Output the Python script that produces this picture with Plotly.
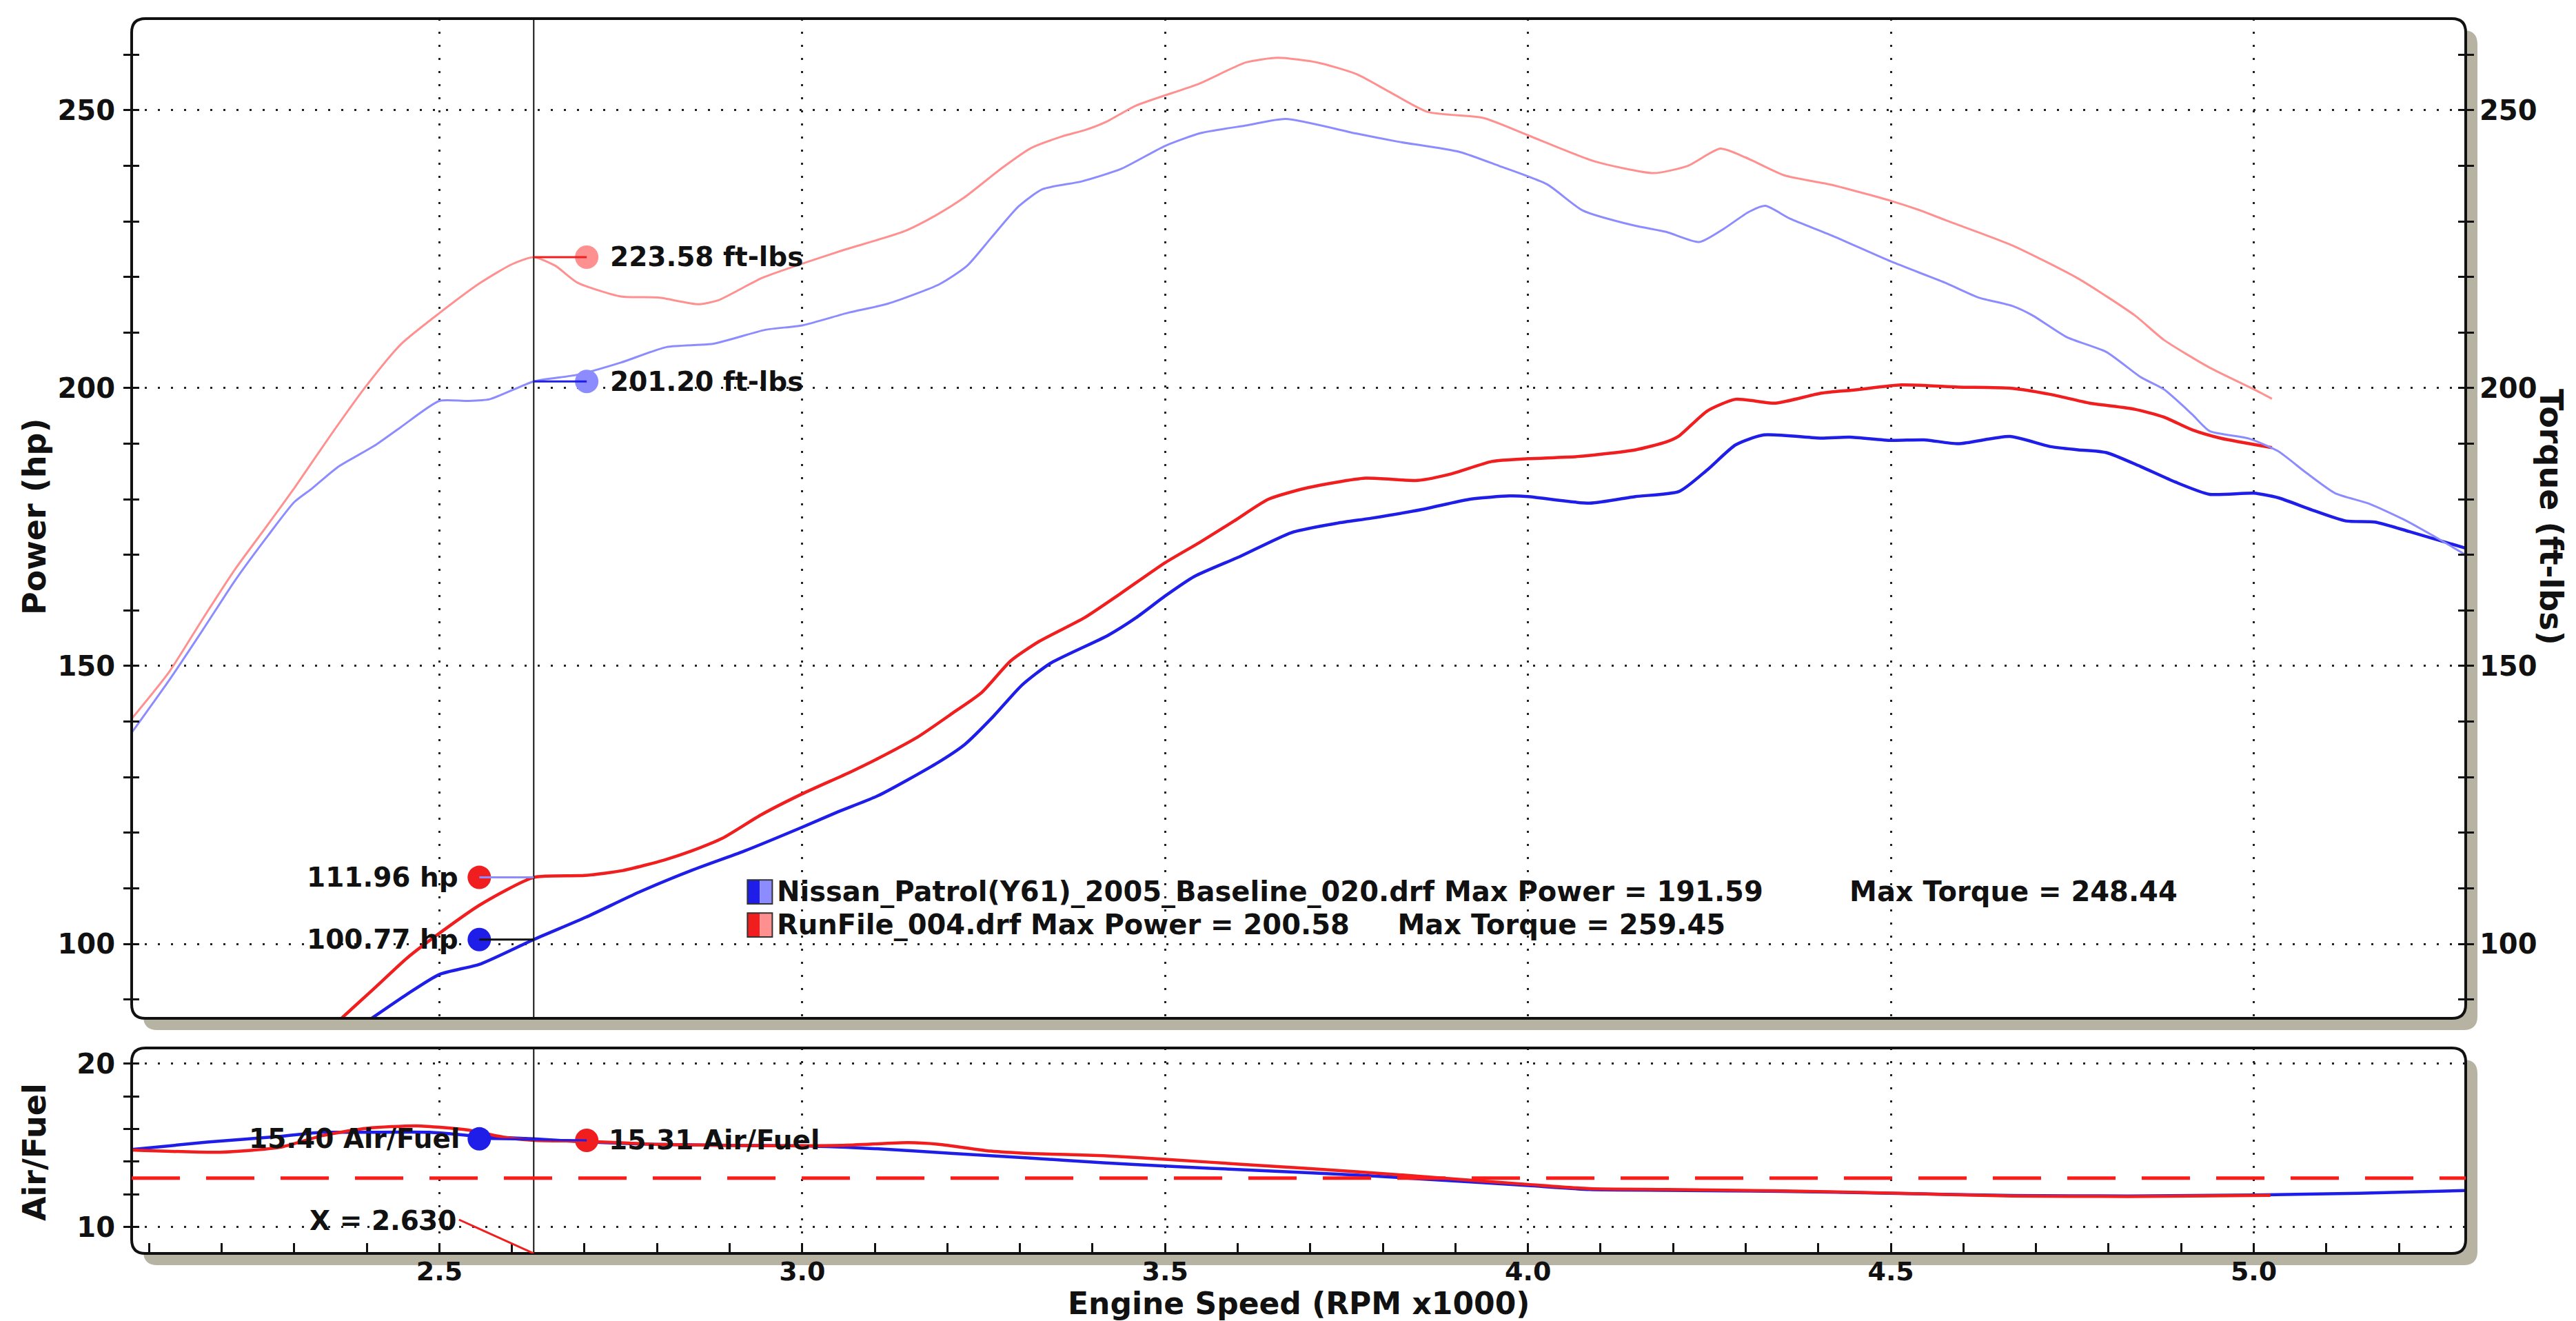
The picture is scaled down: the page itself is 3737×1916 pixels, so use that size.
import plotly.graph_objects as go

# ---------------- data ----------------
CURSOR_X = 2.630

run_power_rpm = [2.36, 2.412, 2.455, 2.5, 2.557, 2.63, 2.70, 2.753, 2.81, 2.847, 2.89, 2.943, 3.0, 3.066,
                 3.105, 3.16, 3.208, 3.247, 3.287, 3.326, 3.389, 3.437, 3.5, 3.547, 3.595, 3.642, 3.697,
                 3.776, 3.848, 3.895, 3.95, 4.0, 4.069, 4.148, 4.19, 4.208, 4.247, 4.286, 4.341, 4.404,
                 4.451, 4.514, 4.593, 4.664, 4.719, 4.774, 4.836, 4.876, 4.915, 4.954, 5.025]
run_power_hp = [86.0, 92.2, 97.4, 101.9, 107.1, 111.96, 112.3, 113.2, 115.1, 116.7, 119.0, 123.2, 127.0, 130.9,
                133.4, 137.3, 141.6, 145.2, 150.9, 154.4, 158.7, 162.9, 168.6, 172.2, 176.1, 180.0, 182.1,
                183.8, 183.4, 184.6, 186.8, 187.3, 187.7, 188.9, 190.3, 191.4, 195.9, 198.0, 197.3, 199.1,
                199.7, 200.58, 200.2, 200.0, 198.9, 197.3, 196.2, 194.8, 192.5, 191.0, 189.3]

base_power_rpm = [2.40, 2.455, 2.5, 2.557, 2.63, 2.702, 2.775, 2.847, 2.92, 3.0, 3.05, 3.105, 3.184, 3.224,
                  3.263, 3.303, 3.342, 3.421, 3.46, 3.5, 3.54, 3.603, 3.674, 3.737, 3.784, 3.855, 3.919,
                  3.974, 4.0, 4.085, 4.148, 4.208, 4.247, 4.286, 4.325, 4.404, 4.443, 4.5, 4.546, 4.593,
                  4.664, 4.719, 4.758, 4.797, 4.844, 4.892, 4.939, 5.0, 5.033, 5.08, 5.127, 5.167, 5.214, 5.292]
base_power_hp = [86.0, 90.9, 94.5, 96.4, 100.77, 104.8, 109.3, 113.2, 116.7, 121.0, 123.8, 126.7, 132.4, 135.9,
                 140.9, 146.6, 150.5, 155.5, 158.7, 162.6, 166.1, 169.7, 174.0, 175.7, 176.6, 178.2, 180.0,
                 180.6, 180.5, 179.3, 180.5, 181.4, 185.3, 189.8, 191.59, 191.0, 191.2, 190.6, 190.7, 190.0,
                 191.3, 189.5, 188.9, 188.4, 185.9, 183.1, 180.9, 181.1, 180.3, 178.1, 176.1, 175.9, 174.2, 171.2]

run_torque_rpm = [2.076, 2.128, 2.174, 2.219, 2.264, 2.30, 2.35, 2.398, 2.447, 2.5, 2.557, 2.60, 2.63, 2.66,
                  2.69, 2.75, 2.802, 2.857, 2.884, 2.944, 3.0, 3.058, 3.14, 3.184, 3.222, 3.276, 3.315,
                  3.358, 3.391, 3.42, 3.459, 3.547, 3.611, 3.655, 3.71, 3.764, 3.808, 3.862, 3.939, 4.0,
                  4.092, 4.173, 4.22, 4.265, 4.30, 4.353, 4.418, 4.5, 4.538, 4.576, 4.667, 4.757, 4.836,
                  4.876, 4.939, 5.0, 5.025]
run_torque_lbft = [140.5, 149.0, 158.5, 167.5, 175.5, 182.0, 191.5, 200.2, 207.9, 213.5, 219.0, 222.3, 223.58, 222.0,
                   219.0, 216.5, 216.3, 215.1, 215.8, 219.8, 222.4, 224.9, 228.2, 231.1, 234.2, 239.7, 243.2,
                   245.3, 246.5, 248.0, 250.8, 254.8, 258.6, 259.45, 258.6, 256.5, 253.4, 249.7, 248.6, 245.5,
                   240.8, 238.7, 240.0, 243.1, 241.5, 238.3, 236.6, 233.7, 232.1, 230.2, 225.7, 219.8, 213.1,
                   208.7, 203.7, 199.8, 198.1]

base_torque_rpm = [2.076, 2.128, 2.174, 2.219, 2.264, 2.30, 2.325, 2.36, 2.41, 2.447, 2.5, 2.538, 2.569, 2.63,
                   2.69, 2.75, 2.813, 2.878, 2.949, 3.0, 3.064, 3.118, 3.189, 3.227, 3.26, 3.298, 3.331,
                   3.385, 3.44, 3.5, 3.549, 3.613, 3.666, 3.764, 3.819, 3.906, 3.96, 4.026, 4.075, 4.145,
                   4.191, 4.236, 4.27, 4.304, 4.327, 4.361, 4.418, 4.5, 4.576, 4.621, 4.667, 4.695, 4.742,
                   4.797, 4.844, 4.876, 4.915, 4.939, 4.994, 5.033, 5.072, 5.112, 5.159, 5.206, 5.245, 5.292]
base_torque_lbft = [138.0, 147.5, 156.5, 165.5, 173.5, 179.5, 182.0, 185.8, 189.6, 193.0, 197.7, 197.7, 198.0, 201.2,
                    202.4, 204.6, 207.4, 208.0, 210.5, 211.3, 213.6, 215.2, 218.7, 222.0, 227.0, 232.7, 235.8,
                    237.2, 239.5, 243.6, 245.9, 247.3, 248.44, 245.8, 244.4, 242.5, 240.0, 236.7, 232.0, 229.3,
                    228.1, 226.3, 228.7, 231.7, 232.8, 230.5, 227.5, 222.8, 218.9, 216.3, 214.8, 213.1, 209.2,
                    206.5, 202.0, 199.8, 195.3, 192.3, 190.9, 188.7, 184.8, 181.1, 179.2, 176.4, 173.6, 170.0]

base_afr_rpm = [2.076, 2.18, 2.28, 2.339, 2.40, 2.487, 2.556, 2.63, 2.703, 2.796, 2.899, 3.0, 3.105, 3.208,
                3.311, 3.415, 3.5, 3.62, 3.767, 3.873, 4.0, 4.085, 4.191, 4.35, 4.5, 4.668, 4.827, 5.0,
                5.145, 5.292]
base_afr = [14.75, 15.2, 15.55, 15.8, 15.8, 15.8, 15.55, 15.40, 15.21, 15.07, 15.0, 14.97, 14.79, 14.51,
            14.23, 13.94, 13.73, 13.48, 13.17, 12.89, 12.54, 12.3, 12.25, 12.18, 12.07, 11.93, 11.9, 11.96,
            12.07, 12.24]

run_afr_rpm = [2.076, 2.198, 2.28, 2.339, 2.40, 2.469, 2.538, 2.59, 2.63, 2.705, 2.796, 2.899, 3.054, 3.146,
               3.188, 3.26, 3.311, 3.415, 3.5, 3.62, 3.767, 3.873, 4.0, 4.085, 4.191, 4.35, 4.5, 4.668,
               4.827, 5.023]
run_afr = [14.72, 14.58, 14.88, 15.6, 16.05, 16.2, 15.95, 15.49, 15.31, 15.25, 15.07, 15.0, 15.0, 15.17,
           15.07, 14.65, 14.51, 14.37, 14.15, 13.8, 13.38, 13.03, 12.61, 12.35, 12.3, 12.21, 12.08, 11.9,
           11.87, 11.94]

AFR_TARGET = 13.0

cursor_run_hp, cursor_base_hp = 111.96, 100.77
cursor_run_tq, cursor_base_tq = 223.58, 201.20
cursor_base_afr, cursor_run_afr = 15.40, 15.31

x_ticklabels = ["2.5", "3.0", "3.5", "4.0", "4.5", "5.0"]
x_tickvals = [2.5, 3.0, 3.5, 4.0, 4.5, 5.0]

BASE_NAME = "Nissan_Patrol(Y61)_2005_Baseline_020.drf"
RUN_NAME = "RunFile_004.drf"

# ---------------- geometry / style ----------------
W, H = 3737, 1916
ML, MR, MT, MB = 183, 168, 19, 106
PW, PH = W - ML - MR, H - MT - MB
TOP_BOTTOM_PX, BOT_TOP_PX = 1469, 1512


def px(x):
    return (x - ML) / PW


def py(y):
    return (H - MB - y) / PH


X_RANGE = [2.076, 5.292]
P_RANGE = [86.6, 266.5]
A_RANGE = [8.38, 20.97]

BLUE = "#1e1ee8"
RED = "#f01e1e"
LBLUE = "#8c8cff"
LRED = "#ff9090"
INK = "#111111"
SHADOW = "#b7b3a3"
FONT = "DejaVu Sans"
MARK_L, MARK_R = 2.555, 2.703


def f(size):
    return dict(family=FONT, size=size, color=INK, weight="bold")


def rrect(x0, y0, x1, y1, r):
    X, Y = px, py
    return (f"M {X(x0 + r)},{Y(y0)} L {X(x1 - r)},{Y(y0)} Q {X(x1)},{Y(y0)} {X(x1)},{Y(y0 + r)} "
            f"L {X(x1)},{Y(y1 - r)} Q {X(x1)},{Y(y1)} {X(x1 - r)},{Y(y1)} L {X(x0 + r)},{Y(y1)} "
            f"Q {X(x0)},{Y(y1)} {X(x0)},{Y(y1 - r)} L {X(x0)},{Y(y0 + r)} Q {X(x0)},{Y(y0)} {X(x0 + r)},{Y(y0)} Z")


fig = go.Figure()

SM = 0.6
fig.add_trace(go.Scatter(x=base_torque_rpm, y=base_torque_lbft, yaxis="y2", xaxis="x", mode="lines",
                         line=dict(color=LBLUE, width=3, shape="spline", smoothing=SM), showlegend=False))
fig.add_trace(go.Scatter(x=run_torque_rpm, y=run_torque_lbft, yaxis="y2", xaxis="x", mode="lines",
                         line=dict(color=LRED, width=3, shape="spline", smoothing=SM), showlegend=False))
fig.add_trace(go.Scatter(x=base_power_rpm, y=base_power_hp, yaxis="y", xaxis="x", mode="lines",
                         line=dict(color=BLUE, width=4.5, shape="spline", smoothing=SM), showlegend=False))
fig.add_trace(go.Scatter(x=run_power_rpm, y=run_power_hp, yaxis="y", xaxis="x", mode="lines",
                         line=dict(color=RED, width=4.5, shape="spline", smoothing=SM), showlegend=False))
fig.add_trace(go.Scatter(x=base_afr_rpm, y=base_afr, xaxis="x2", yaxis="y5", mode="lines",
                         line=dict(color=BLUE, width=4.5, shape="spline", smoothing=SM), showlegend=False))
fig.add_trace(go.Scatter(x=run_afr_rpm, y=run_afr, xaxis="x2", yaxis="y5", mode="lines",
                         line=dict(color=RED, width=4.5, shape="spline", smoothing=SM), showlegend=False))
for ya, xa in (("y3", "x"), ("y4", "x"), ("y6", "x2")):
    fig.add_trace(go.Scatter(x=[], y=[], xaxis=xa, yaxis=ya, showlegend=False))

MS = 34
fig.add_trace(go.Scatter(x=[MARK_R, MARK_R], y=[cursor_run_tq, cursor_base_tq], xaxis="x", yaxis="y2",
                         mode="markers", marker=dict(size=MS, color=[LRED, LBLUE]), showlegend=False, cliponaxis=False))
fig.add_trace(go.Scatter(x=[MARK_L, MARK_L], y=[cursor_run_hp, cursor_base_hp], xaxis="x", yaxis="y",
                         mode="markers", marker=dict(size=MS, color=[RED, BLUE]), showlegend=False, cliponaxis=False))
fig.add_trace(go.Scatter(x=[MARK_L, MARK_R], y=[cursor_base_afr, cursor_run_afr], xaxis="x2", yaxis="y5",
                         mode="markers", marker=dict(size=MS, color=[BLUE, RED]), showlegend=False, cliponaxis=False))

shapes = []
for (y0, y1) in ((MT, TOP_BOTTOM_PX), (BOT_TOP_PX, H - MB)):
    shapes.append(dict(type="path", xref="paper", yref="paper", path=rrect(ML + 17, y0 + 17, ML + PW + 17, y1 + 17, 20),
                       fillcolor=SHADOW, line=dict(width=0), layer="below"))
    shapes.append(dict(type="path", xref="paper", yref="paper", path=rrect(ML, y0, ML + PW, y1, 20),
                       fillcolor="white", line=dict(width=0), layer="below"))
    shapes.append(dict(type="path", xref="paper", yref="paper", path=rrect(ML, y0, ML + PW, y1, 20),
                       fillcolor="rgba(0,0,0,0)", line=dict(color=INK, width=4), layer="above"))

shapes.append(dict(type="line", xref="x", yref="y domain", x0=CURSOR_X, x1=CURSOR_X, y0=0, y1=1,
                   line=dict(color=INK, width=2), layer="above"))
shapes.append(dict(type="line", xref="x2", yref="y5 domain", x0=CURSOR_X, x1=CURSOR_X, y0=0, y1=1,
                   line=dict(color=INK, width=2), layer="above"))
shapes.append(dict(type="line", xref="x2 domain", yref="y5", x0=0, x1=1, y0=AFR_TARGET, y1=AFR_TARGET,
                   line=dict(color="#ff1a1a", width=5, dash="70px,38px"), layer="above"))
shapes += [
    dict(type="line", xref="x", yref="y2", x0=CURSOR_X, x1=MARK_R, y0=cursor_run_tq, y1=cursor_run_tq,
         line=dict(color=RED, width=3)),
    dict(type="line", xref="x", yref="y2", x0=CURSOR_X, x1=MARK_R, y0=cursor_base_tq, y1=cursor_base_tq,
         line=dict(color=BLUE, width=3)),
    dict(type="line", xref="x", yref="y", x0=MARK_L, x1=CURSOR_X, y0=cursor_run_hp, y1=cursor_run_hp,
         line=dict(color=LBLUE, width=3)),
    dict(type="line", xref="x", yref="y", x0=MARK_L, x1=CURSOR_X, y0=cursor_base_hp, y1=cursor_base_hp,
         line=dict(color=INK, width=3)),
    dict(type="line", xref="x2", yref="y5", x0=MARK_L, x1=MARK_R, y0=cursor_base_afr, y1=cursor_run_afr,
         line=dict(color=BLUE, width=3)),
    dict(type="line", xref="x2", yref="y5", x0=2.527, x1=CURSOR_X, y0=10.45, y1=A_RANGE[0],
         line=dict(color=RED, width=3)),
]
for (yc, dark, light) in ((109.35, BLUE, LBLUE), (103.4, RED, LRED)):
    shapes.append(dict(type="rect", xref="x", yref="y", x0=2.9245, x1=2.9416, y0=yc - 2.15, y1=yc + 2.15,
                       fillcolor=dark, line=dict(width=0)))
    shapes.append(dict(type="rect", xref="x", yref="y", x0=2.9416, x1=2.9587, y0=yc - 2.15, y1=yc + 2.15,
                       fillcolor=light, line=dict(width=0)))
    shapes.append(dict(type="rect", xref="x", yref="y", x0=2.9245, x1=2.9587, y0=yc - 2.15, y1=yc + 2.15,
                       fillcolor="rgba(0,0,0,0)", line=dict(color="#333", width=2)))

NB = "\u00a0"
ann = []
ann.append(dict(x=2.963, y=109.35, xref="x", yref="y", xanchor="left", yanchor="middle", showarrow=False,
                text=f"{BASE_NAME} Max Power = {max(base_power_hp):.2f}{NB * 9}Max Torque = {max(base_torque_lbft):.2f}",
                font=f(40)))
ann.append(dict(x=2.963, y=103.4, xref="x", yref="y", xanchor="left", yanchor="middle", showarrow=False,
                text=f"{RUN_NAME} Max Power = {max(run_power_hp):.2f}{NB * 5}Max Torque = {max(run_torque_lbft):.2f}",
                font=f(40)))
LS = 39
ann += [
    dict(x=MARK_R, y=cursor_run_tq, xref="x", yref="y2", xanchor="left", yanchor="middle", xshift=32,
         showarrow=False, text=f"{cursor_run_tq:.2f} ft-lbs", font=f(LS)),
    dict(x=MARK_R, y=cursor_base_tq, xref="x", yref="y2", xanchor="left", yanchor="middle", xshift=32,
         showarrow=False, text=f"{cursor_base_tq:.2f} ft-lbs", font=f(LS)),
    dict(x=MARK_L, y=cursor_run_hp, xref="x", yref="y", xanchor="right", yanchor="middle", xshift=-28,
         showarrow=False, text=f"{cursor_run_hp:.2f} hp", font=f(LS)),
    dict(x=MARK_L, y=cursor_base_hp, xref="x", yref="y", xanchor="right", yanchor="middle", xshift=-28,
         showarrow=False, text=f"{cursor_base_hp:.2f} hp", font=f(LS)),
    dict(x=MARK_L, y=cursor_base_afr, xref="x2", yref="y5", xanchor="right", yanchor="middle", xshift=-26,
         showarrow=False, text=f"{cursor_base_afr:.2f} Air/Fuel", font=f(LS)),
    dict(x=MARK_R, y=cursor_run_afr, xref="x2", yref="y5", xanchor="left", yanchor="middle", xshift=30,
         showarrow=False, text=f"{cursor_run_afr:.2f} Air/Fuel", font=f(LS)),
    dict(x=2.527, y=10.4, xref="x2", yref="y5", xanchor="right", yanchor="middle", xshift=-2,
         showarrow=False, text=f"X = {CURSOR_X:.3f}", font=f(LS)),
    dict(x=px(42), y=py(742), xref="paper", yref="paper", xanchor="center", yanchor="middle",
         showarrow=False, textangle=-90, text="Power (hp)", font=f(46)),
    dict(x=px(3693), y=py(742), xref="paper", yref="paper", xanchor="center", yanchor="middle",
         showarrow=False, textangle=90, text="Torque (ft-lbs)", font=f(46)),
    dict(x=px(42), y=py(1663), xref="paper", yref="paper", xanchor="center", yanchor="middle",
         showarrow=False, textangle=-90, text="Air/Fuel", font=f(46)),
    dict(x=px(1876), y=py(1882), xref="paper", yref="paper", xanchor="center", yanchor="middle",
         showarrow=False, text="Engine Speed (RPM x1000)", font=f(44)),
]

GRID = dict(showgrid=True, gridcolor="#222222", gridwidth=3, griddash="3px,16px")
TICK = dict(tickcolor=INK, tickwidth=3, ticklen=11)
top_dom = [py(TOP_BOTTOM_PX), 1]
bot_dom = [0, py(BOT_TOP_PX)]

fig.update_layout(
    width=W, height=H, margin=dict(l=ML, r=MR, t=MT, b=MB, pad=0),
    paper_bgcolor="white", plot_bgcolor="rgba(0,0,0,0)",
    showlegend=False, shapes=shapes, annotations=ann,
    xaxis=dict(domain=[0, 1], anchor="y", range=X_RANGE, matches="x2", showticklabels=False, ticks="",
               tick0=0, dtick=0.5, zeroline=False, showline=False, **GRID),
    xaxis2=dict(domain=[0, 1], anchor="y5", range=X_RANGE, tickmode="array", tickvals=x_tickvals,
                ticktext=x_ticklabels, ticks="inside", ticklen=15, tickwidth=3, tickcolor=INK,
                minor=dict(dtick=0.1, tick0=0, ticks="inside", ticklen=15, tickwidth=3, tickcolor=INK, showgrid=False),
                tickfont=f(38), ticklabelstandoff=0, zeroline=False, showline=False, **GRID),
    yaxis=dict(domain=top_dom, anchor="x", range=P_RANGE, side="left", tick0=0, dtick=50, ticks="outside",
               minor=dict(dtick=10, tick0=0, ticks="outside", showgrid=False, **TICK), tickfont=f(40),
               ticklabelstandoff=4, zeroline=False, showline=False, **GRID, **TICK),
    yaxis2=dict(domain=top_dom, anchor="x", overlaying="y", range=P_RANGE, side="right", tick0=0, dtick=50,
                ticks="outside", minor=dict(dtick=10, tick0=0, ticks="outside", showgrid=False, **TICK),
                tickfont=f(40), ticklabelstandoff=0, zeroline=False, showline=False, showgrid=False, **TICK),
    yaxis3=dict(domain=top_dom, anchor="x", overlaying="y", range=P_RANGE, side="left", tick0=0, dtick=50,
                ticks="inside", minor=dict(dtick=10, tick0=0, ticks="inside", showgrid=False, **TICK),
                showticklabels=False, zeroline=False, showline=False, showgrid=False, **TICK),
    yaxis4=dict(domain=top_dom, anchor="x", overlaying="y", range=P_RANGE, side="right", tick0=0, dtick=50,
                ticks="inside", minor=dict(dtick=10, tick0=0, ticks="inside", showgrid=False, **TICK),
                showticklabels=False, zeroline=False, showline=False, showgrid=False, **TICK),
    yaxis5=dict(domain=bot_dom, anchor="x2", range=A_RANGE, side="left", tick0=0, dtick=10, ticks="outside",
                minor=dict(dtick=2, tick0=0, ticks="outside", showgrid=False, **TICK), tickfont=f(40),
                ticklabelstandoff=4, zeroline=False, showline=False, **GRID, **TICK),
    yaxis6=dict(domain=bot_dom, anchor="x2", overlaying="y5", range=A_RANGE, side="left", tick0=0, dtick=10,
                ticks="inside", minor=dict(dtick=2, tick0=0, ticks="inside", showgrid=False, **TICK),
                showticklabels=False, zeroline=False, showline=False, showgrid=False, **TICK),
)

fig.write_html("out.html")
